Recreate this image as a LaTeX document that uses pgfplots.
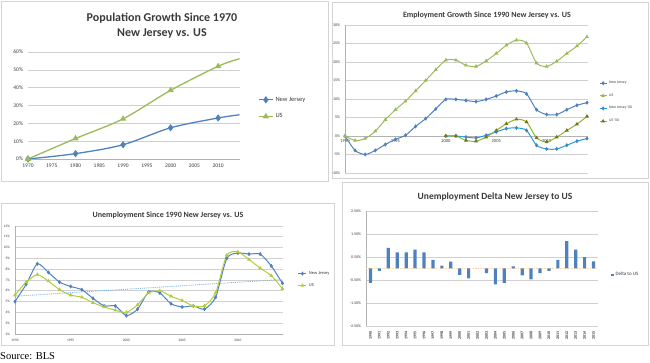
\documentclass[border=0pt]{standalone}
\usepackage{pgfplots}
\pgfplotsset{compat=1.18}
\usepackage{fontspec}
\setmainfont{Carlito}
\newfontfamily\timesf{Liberation Serif}
\definecolor{njblue}{HTML}{4F81BD}
\definecolor{usgreen}{HTML}{9BBB59}
\definecolor{njzero}{HTML}{1E9FE0}
\definecolor{uszero}{HTML}{8DB43A}
\definecolor{usthree}{HTML}{B3CC3C}
\definecolor{trendc}{HTML}{7FB2E5}
\definecolor{gridc}{HTML}{D0D0D0}
\definecolor{framec}{HTML}{D4D4D4}
\definecolor{txt}{HTML}{3A3A3A}
\pgfplotsset{
  basestyle/.style={scale only axis, anchor=south west,
    ymajorgrids, grid style={gridc, line width=0.6pt},
    tick label style={text=txt},
    legend cell align=left,
    legend style={draw=none, fill=none, text=txt, inner sep=0pt},
    tick align=outside, major tick length=1.5pt,
    tick style={gray!60},
    axis line style={gray!60},
  },
  shortlegend/.style={legend image code/.code={%
    \draw[##1, mark indices={2}] plot coordinates {(0pt,0pt) (#1,0pt) (2*#1,0pt)};}},
}
\begin{document}
\begin{tikzpicture}[x=1pt,y=1pt]
\path[use as bounding box] (0,0) rectangle (650,363);
\draw[framec, line width=0.8pt] (1,182) rectangle (328,362);
\draw[framec, line width=0.8pt] (332,185) rectangle (648,361);
\draw[framec, line width=0.8pt] (1,18) rectangle (334,160);
\draw[framec, line width=0.8pt] (342,18) rectangle (648,181);

% ---------- Panel 1 ----------
\node[align=center, font=\bfseries\fontsize{12}{15}\selectfont, text=txt] at (162,337.5) {Population Growth Since 1970\\New Jersey vs. US};
\begin{axis}[basestyle, at={(28pt,204pt)}, width=212pt, height=107pt,
  xmin=1970, xmax=2014.6, ymin=0, ymax=60,
  axis x line*=bottom, axis y line*=left, y axis line style={draw=none},
  xtick={1970,1975,...,2010}, ytick={0,10,...,60},
  xticklabels={1970,1975,1980,1985,1990,1995,2000,2005,2010},
  yticklabels={0\%,10\%,20\%,30\%,40\%,50\%,60\%},
  tick label style={font=\fontsize{5.5}{6}\selectfont},
  ytick style={draw=none},
  shortlegend=7pt,
  legend style={at={(1.085,0.6)}, anchor=north west, font=\fontsize{6.5}{7}\selectfont, row sep=7pt},
]
\addplot[njblue, line width=1.3pt, smooth, mark=diamond*, mark size=2.6pt, mark indices={1,2,3,4,5}]
  coordinates {(1970,0) (1980,3) (1990,8) (2000,17.5) (2010,23) (2014.5,24.8)};
\addlegendentry{New Jersey}
\addplot[usgreen, line width=1.3pt, smooth, mark=triangle*, mark size=2.4pt, mark indices={1,2,3,4,5}]
  coordinates {(1970,0) (1980,11.5) (1990,22.5) (2000,38.5) (2010,52) (2014.5,56.2)};
\addlegendentry{US}
\end{axis}

% ---------- Panel 2 ----------
\node[font=\bfseries\fontsize{8}{9}\selectfont, text=txt] at (487,348) {Employment Growth Since 1990 New Jersey vs. US};
\begin{axis}[basestyle, at={(345pt,190pt)}, width=243pt, height=148pt,
  xmin=1990, xmax=2014.1, ymin=-10, ymax=30,
  axis x line*=middle, axis y line*=left,
  hide obscured x ticks=false, hide obscured y ticks=false,
  xtick={1990,1995,...,2010}, ytick={-10,-5,...,30},
  xticklabels={1990,1995,2000,2005,2010},
  yticklabels={-10\%,-5\%,0\%,5\%,10\%,15\%,20\%,25\%,30\%},
  tick label style={font=\fontsize{4}{4.5}\selectfont},
  x tick label style={font=\fontsize{4.5}{5}\selectfont, yshift=1pt},
  ytick style={draw=none},
  shortlegend=3.5pt,
  legend style={at={(1.045,0.635)}, anchor=north west, font=\fontsize{3.8}{4}\selectfont, row sep=4.6pt},
]
\addplot[njblue, line width=1pt, smooth, tension=0.45, mark=diamond*, mark size=1.3pt] coordinates {
(1990,0) (1991,-3.9) (1992,-5.0) (1993,-3.9) (1994,-2.3) (1995,-0.9) (1996,0.2) (1997,2.6)
(1998,4.7) (1999,7.3) (2000,9.9) (2001,9.9) (2002,9.6) (2003,9.3) (2004,9.9) (2005,10.8)
(2006,11.9) (2007,12.2) (2008,11.4) (2009,7.1) (2010,5.8) (2011,5.8) (2012,7.1) (2013,8.3) (2014,9.0)};
\addlegendentry{New Jersey}
\addplot[usgreen, line width=1pt, smooth, tension=0.45, mark=triangle*, mark size=1.3pt] coordinates {
(1990,0) (1991,-1.2) (1992,-0.7) (1993,1.3) (1994,4.4) (1995,7.1) (1996,9.4) (1997,12.2)
(1998,15.0) (1999,17.9) (2000,20.5) (2001,20.5) (2002,19.1) (2003,18.8) (2004,20.3) (2005,22.3)
(2006,24.5) (2007,25.9) (2008,25.1) (2009,19.7) (2010,18.8) (2011,20.2) (2012,22.3) (2013,24.3) (2014,26.8)};
\addlegendentry{US}
\addplot[njzero, line width=1pt, smooth, tension=0.45, mark=diamond*, mark size=1.3pt, mark options={fill=njblue,draw=njblue}] coordinates {
(2000,0) (2001,0) (2002,-0.3) (2003,-0.5) (2004,0.2) (2005,1.1) (2006,2.0) (2007,2.2)
(2008,1.5) (2009,-2.5) (2010,-3.5) (2011,-3.5) (2012,-2.5) (2013,-1.4) (2014,-0.7)};
\addlegendentry{New Jersey '00}
\addplot[uszero, line width=1pt, smooth, tension=0.45, mark=triangle*, mark size=1.3pt, mark options={fill=olive!80!black,draw=olive!80!black}] coordinates {
(2000,0) (2001,0) (2002,-1.2) (2003,-1.4) (2004,-0.3) (2005,1.5) (2006,3.3) (2007,4.5)
(2008,3.8) (2009,-0.5) (2010,-1.6) (2011,-0.3) (2012,1.5) (2013,3.2) (2014,5.3)};
\addlegendentry{US '00}
\end{axis}

% ---------- Panel 3 ----------
\node[font=\bfseries\fontsize{8}{9}\selectfont, text=txt] at (168,148) {Unemployment Since 1990 New Jersey vs. US};
\begin{axis}[basestyle, at={(15pt,29pt)}, width=268pt, height=108pt,
  xmin=1990, xmax=2014.05, ymin=2, ymax=12,
  axis x line*=bottom, axis y line*=left,
  xtick={1990,1995,...,2010}, ytick={2,3,...,12},
  xticklabels={1990,1995,2000,2005,2010},
  yticklabels={2\%,3\%,4\%,5\%,6\%,7\%,8\%,9\%,10\%,11\%,12\%},
  tick label style={font=\fontsize{3.5}{4}\selectfont},
  ytick style={draw=none},
  shortlegend=4pt,
  legend style={at={(1.055,0.6)}, anchor=north west, font=\fontsize{4.5}{5}\selectfont, row sep=3.5pt},
]
\addplot[njblue, line width=1pt, smooth, tension=0.4, mark=diamond*, mark size=1.3pt] coordinates {
(1990,5.0) (1991,6.6) (1992,8.5) (1993,7.7) (1994,6.8) (1995,6.4) (1996,6.1) (1997,5.3)
(1998,4.6) (1999,4.6) (2000,3.7) (2001,4.3) (2002,5.9) (2003,5.8) (2004,4.8) (2005,4.5)
(2006,4.6) (2007,4.3) (2008,5.4) (2009,9.0) (2010,9.5) (2011,9.4) (2012,9.4) (2013,8.3) (2014,6.7)};
\addlegendentry{New Jersey}
\addplot[usthree, line width=1pt, smooth, tension=0.4, mark=triangle*, mark size=1.3pt] coordinates {
(1990,5.6) (1991,6.8) (1992,7.5) (1993,6.9) (1994,6.1) (1995,5.6) (1996,5.4) (1997,4.9)
(1998,4.5) (1999,4.2) (2000,4.0) (2001,4.7) (2002,5.8) (2003,6.0) (2004,5.5) (2005,5.1)
(2006,4.6) (2007,4.6) (2008,5.8) (2009,9.3) (2010,9.6) (2011,8.9) (2012,8.1) (2013,7.4) (2014,6.2)};
\addlegendentry{US}
\addplot[trendc, line width=0.9pt, densely dotted, forget plot] coordinates {(1990,5.5) (2014,7.05)};
\end{axis}

% ---------- Panel 4 ----------
\node[font=\bfseries\fontsize{9.5}{10}\selectfont, text=txt] at (495,166) {Unemployment Delta New Jersey to US};
\begin{axis}[basestyle, at={(366pt,37pt)}, width=232pt, height=115pt,
  xmin=-0.5, xmax=25.5, ymin=-2.5, ymax=2.5,
  axis x line*=bottom, axis y line*=left, x axis line style={draw=none},
  ybar, bar width=3.2pt,
  xtick={0,...,25},
  xticklabels={1990,1991,1992,1993,1994,1995,1996,1997,1998,1999,2000,2001,2002,2003,2004,2005,2006,2007,2008,2009,2010,2011,2012,2013,2014,2015},
  x tick label style={rotate=90, anchor=east, font=\bfseries\fontsize{4}{4}\selectfont, yshift=0pt},
  ytick={-2.5,-1.5,-0.5,0.5,1.5,2.5},
  yticklabels={-2.50\%,-1.50\%,-0.50\%,0.50\%,1.50\%,2.50\%},
  y tick label style={font=\fontsize{4}{4.5}\selectfont},
  extra y ticks={0}, extra y tick labels={},
  extra y tick style={grid style={orange!30, densely dotted, line width=0.6pt}, tick style={draw=none}},
  xtick style={draw=none}, ytick style={draw=none},
  legend image code/.code={\fill[njblue] (0pt,-1.3pt) rectangle (2.6pt,1.3pt);},
  legend style={at={(1.055,0.445)}, anchor=west, font=\fontsize{5}{5.5}\selectfont},
]
\addplot[fill=njblue, draw=none, bar shift=0pt] coordinates {
(0,-0.62) (1,-0.1) (2,0.9) (3,0.7) (4,0.7) (5,0.82) (6,0.7) (7,0.38) (8,0.12) (9,0.3)
(10,-0.28) (11,-0.43) (12,0) (13,-0.2) (14,-0.69) (15,-0.62) (16,0.09) (17,-0.3) (18,-0.47)
(19,-0.2) (20,-0.1) (21,0.38) (22,1.19) (23,0.82) (24,0.49) (25,0.31)};
\addlegendentry{Delta to US}
\end{axis}

\node[anchor=base west, font=\timesf\fontsize{10.5}{12}\selectfont, inner sep=0pt] at (0,3) {Source: BLS};
\end{tikzpicture}
\end{document}
